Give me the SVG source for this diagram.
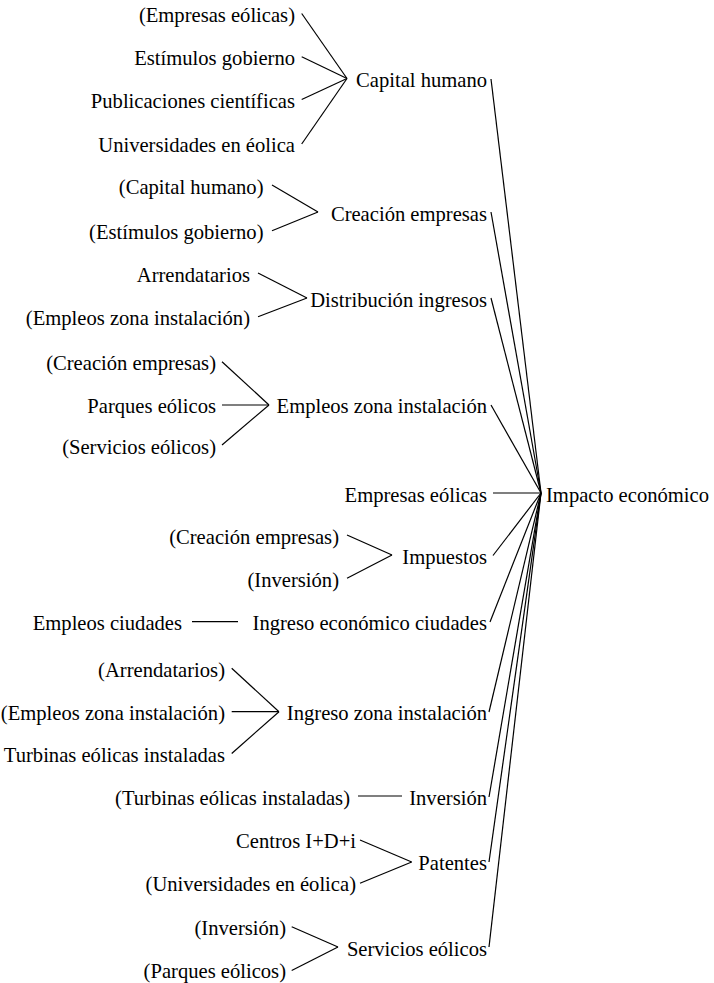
<svg xmlns="http://www.w3.org/2000/svg" width="714" height="983" viewBox="0 0 714 983">
  <style>
    text { font-family: "Liberation Serif", "Times New Roman", serif; font-size: 20.6px; fill: #000; }
    .r { text-anchor: end; }
    .l { text-anchor: start; }
    #links line { stroke: #000; stroke-width: 1.2; fill: none; }
  </style>
  <rect width="714" height="983" fill="#fff"/>

  <!-- connectors of the causes tree -->
  <g id="links">
    <!-- into Capital humano -->
    <line x1="301.7" y1="13.5" x2="347" y2="78.5"/>
    <line x1="301.7" y1="56.7" x2="347" y2="78.5"/>
    <line x1="301.7" y1="99.5" x2="347" y2="78.5"/>
    <line x1="301.7" y1="144" x2="347" y2="78.5"/>
    <!-- into Creación empresas -->
    <line x1="272" y1="185" x2="318" y2="212"/>
    <line x1="272" y1="230.7" x2="318" y2="212"/>
    <!-- into Distribución ingresos -->
    <line x1="258" y1="273" x2="307" y2="298"/>
    <line x1="258" y1="316.7" x2="307" y2="298"/>
    <!-- into Empleos zona instalación -->
    <line x1="222" y1="361.7" x2="269" y2="405"/>
    <line x1="222" y1="405" x2="269" y2="405"/>
    <line x1="222" y1="445" x2="269" y2="405"/>
    <!-- into Impuestos -->
    <line x1="347" y1="535" x2="392" y2="555"/>
    <line x1="347" y1="578.3" x2="392" y2="555"/>
    <!-- into Ingreso económico ciudades -->
    <line x1="192" y1="621.7" x2="238" y2="621.7"/>
    <!-- into Ingreso zona instalación -->
    <line x1="231.7" y1="668.3" x2="279" y2="711.7"/>
    <line x1="231.7" y1="711.7" x2="279" y2="711.7"/>
    <line x1="231.7" y1="753.5" x2="279" y2="711.7"/>
    <!-- into Inversión -->
    <line x1="358" y1="796" x2="402" y2="796"/>
    <!-- into Patentes -->
    <line x1="360" y1="840" x2="411.7" y2="862"/>
    <line x1="360" y1="883.3" x2="411.7" y2="862"/>
    <!-- into Servicios eólicos -->
    <line x1="291.7" y1="926.7" x2="338" y2="947"/>
    <line x1="291.7" y1="970.5" x2="338" y2="947"/>
    <!-- into Impacto económico -->
    <line x1="491" y1="79" x2="541" y2="493"/>
    <line x1="491" y1="212" x2="541" y2="493"/>
    <line x1="491" y1="298" x2="541" y2="493"/>
    <line x1="491" y1="405" x2="541" y2="493"/>
    <line x1="493" y1="493" x2="541" y2="493"/>
    <line x1="493" y1="555.5" x2="541" y2="493"/>
    <line x1="490" y1="622" x2="541" y2="493"/>
    <line x1="489" y1="712" x2="541" y2="493"/>
    <line x1="489" y1="797" x2="541" y2="493"/>
    <line x1="489" y1="862" x2="541" y2="493"/>
    <line x1="489" y1="947" x2="541" y2="493"/>
  </g>

  <!-- root -->
  <g id="impacto-economico"><text class="l" x="546" y="502">Impacto económico</text></g>

  <!-- Capital humano branch -->
  <g id="capital-humano"><text class="r" x="487" y="87">Capital humano</text></g>
  <g id="ch-empresas-eolicas"><text class="r" x="295" y="22">(Empresas eólicas)</text></g>
  <g id="ch-estimulos-gobierno"><text class="r" x="295" y="65">Estímulos gobierno</text></g>
  <g id="ch-publicaciones"><text class="r" x="295" y="108">Publicaciones científicas</text></g>
  <g id="ch-universidades"><text class="r" x="295" y="152">Universidades en éolica</text></g>

  <!-- Creación empresas branch -->
  <g id="creacion-empresas"><text class="r" x="487" y="220.5">Creación empresas</text></g>
  <g id="ce-capital-humano"><text class="r" x="263.5" y="193.5">(Capital humano)</text></g>
  <g id="ce-estimulos-gobierno"><text class="r" x="263.5" y="239">(Estímulos gobierno)</text></g>

  <!-- Distribución ingresos branch -->
  <g id="distribucion-ingresos"><text class="r" x="487" y="306.5">Distribución ingresos</text></g>
  <g id="di-arrendatarios"><text class="r" x="250" y="281.5">Arrendatarios</text></g>
  <g id="di-empleos-zona"><text class="r" x="250" y="325">(Empleos zona instalación)</text></g>

  <!-- Empleos zona instalación branch -->
  <g id="empleos-zona-instalacion"><text class="r" x="487" y="413">Empleos zona instalación</text></g>
  <g id="ez-creacion-empresas"><text class="r" x="216" y="370">(Creación empresas)</text></g>
  <g id="ez-parques-eolicos"><text class="r" x="216" y="413">Parques eólicos</text></g>
  <g id="ez-servicios-eolicos"><text class="r" x="216" y="453.5">(Servicios eólicos)</text></g>

  <!-- Empresas eólicas -->
  <g id="empresas-eolicas"><text class="r" x="487" y="502">Empresas eólicas</text></g>

  <!-- Impuestos branch -->
  <g id="impuestos"><text class="r" x="487" y="563.5">Impuestos</text></g>
  <g id="im-creacion-empresas"><text class="r" x="339" y="543.5">(Creación empresas)</text></g>
  <g id="im-inversion"><text class="r" x="339" y="587">(Inversión)</text></g>

  <!-- Ingreso económico ciudades branch -->
  <g id="ingreso-economico-ciudades"><text class="r" x="487" y="630">Ingreso económico ciudades</text></g>
  <g id="ic-empleos-ciudades"><text class="r" x="182" y="630">Empleos ciudades</text></g>

  <!-- Ingreso zona instalación branch -->
  <g id="ingreso-zona-instalacion"><text class="r" x="487" y="720">Ingreso zona instalación</text></g>
  <g id="iz-arrendatarios"><text class="r" x="225" y="677">(Arrendatarios)</text></g>
  <g id="iz-empleos-zona"><text class="r" x="225" y="720">(Empleos zona instalación)</text></g>
  <g id="iz-turbinas"><text class="r" x="225" y="762">Turbinas eólicas instaladas</text></g>

  <!-- Inversión branch -->
  <g id="inversion"><text class="r" x="487" y="805">Inversión</text></g>
  <g id="in-turbinas"><text class="r" x="350" y="805">(Turbinas eólicas instaladas)</text></g>

  <!-- Patentes branch -->
  <g id="patentes"><text class="r" x="487" y="870">Patentes</text></g>
  <g id="pa-centros"><text class="r" x="356" y="848">Centros I+D+i</text></g>
  <g id="pa-universidades"><text class="r" x="356" y="891">(Universidades en éolica)</text></g>

  <!-- Servicios eólicos branch -->
  <g id="servicios-eolicos"><text class="r" x="487" y="955.5">Servicios eólicos</text></g>
  <g id="se-inversion"><text class="r" x="286" y="935">(Inversión)</text></g>
  <g id="se-parques-eolicos"><text class="r" x="286" y="978">(Parques eólicos)</text></g>
</svg>
